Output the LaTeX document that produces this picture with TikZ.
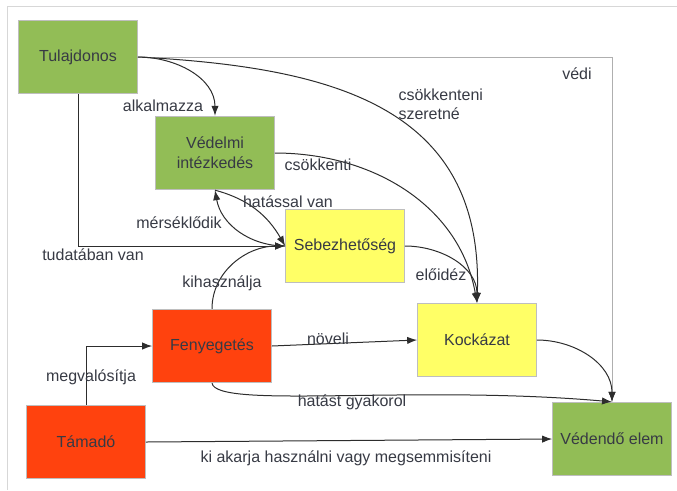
\documentclass[tikz,border=0pt]{standalone}
\usepackage{fontspec}
\setmainfont{Liberation Sans}
\usetikzlibrary{arrows.meta}

\definecolor{zold}{RGB}{146,189,86}
\definecolor{sarga}{RGB}{255,255,102}
\definecolor{piros}{RGB}{255,66,14}
\definecolor{szoveg}{RGB}{55,58,68}
\definecolor{vonal}{RGB}{45,45,45}
\definecolor{halvany}{RGB}{175,175,175}
\definecolor{keret}{RGB}{190,190,190}

\tikzset{every picture/.style={line width=0.75pt}}

\begin{document}
\begin{tikzpicture}[x=0.75pt,y=0.75pt,yscale=-1,xscale=1,
  doboz/.style={draw=keret, minimum width=89pt, minimum height=55pt, inner sep=0pt, align=center, text=szoveg, font=\fontsize{12}{15}\selectfont},
  felirat/.style={inner sep=0.75pt, text=szoveg, align=left, font=\fontsize{12}{14.25}\selectfont},
  nyil/.style={draw=vonal, -{Latex[length=7.5pt,width=5.5pt]}}]
\useasboundingbox (0,0) rectangle (677,490);
%page frame
\draw [color={rgb, 255:red, 215; green, 215; blue, 215 }] (677,6) -- (7,6) -- (7,490);

%Shape: Rectangle
\node [doboz, fill=zold] (tul) at (78,57) {Tulajdonos};
\node [doboz, fill=zold] (ved) at (215,153) {Védelmi\\intézkedés};
\node [doboz, fill=sarga] (seb) at (345,246) {Sebezhetőség};
\node [doboz, fill=piros] (fen) at (212,346) {Fenyegetés};
\node [doboz, fill=sarga] (koc) at (477,340) {Kockázat};
\node [doboz, fill=piros] (tam) at (86,442) {Támadó};
\node [doboz, fill=zold] (vel) at (612,439) {Védendő elem};

%Curve Lines
\draw [nyil] (tul.east) to[out=0,in=-90] (ved.north);
\draw [nyil, draw=halvany, -{Latex[length=7.5pt,width=5.5pt,color=vonal]}] (tul.east) -| (vel.north);
\draw [nyil] (tul.east) to[out=3,in=-88,looseness=1.2] (koc.north);
\draw [nyil] (tul.south) |- (seb.west);
\draw [nyil] (ved.east) to[out=0,in=-100] (koc.north);
\draw [nyil] (ved.south) to[out=15,in=-120] (seb.west);
\draw [nyil] (seb.west) to[out=180,in=80] (ved.south);
\draw [nyil] (fen.north) to[out=-90,in=180] (seb.west);
\draw [nyil] (seb.east) to[out=0,in=-90] (koc.north);
\draw [nyil] (fen.east) -- (koc.west);
\draw [nyil] (fen.south) to[out=80,in=-175,out distance=20pt,in distance=150pt] (vel.north);
\draw [nyil] (koc.east) to[out=0,in=-90] (vel.north);
\draw [nyil] (tam.north) |- (fen.west);
\draw [nyil] (tam.east) -- (vel.west);

% Text Node
\node [felirat] (l-alk) at (163,106) {alkalmazza};
% Text Node
\node [felirat] (l-vedi) at (577,74) {védi};
% Text Node
\node [felirat, anchor=west] (l-csksz) at (397,104) {csökkenteni\\szeretné};
% Text Node
\node [felirat] (l-csk) at (318,165) {csökkenti};
% Text Node
\node [felirat] (l-hat) at (288,202) {hatással van};
% Text Node
\node [felirat] (l-mer) at (179,223) {mérséklődik};
% Text Node
\node [felirat] (l-tud) at (93,255) {tudatában van};
% Text Node
\node [felirat] (l-kih) at (222,283) {kihasználja};
% Text Node
\node [felirat] (l-elo) at (441,275) {előidéz};
% Text Node
\node [felirat] (l-nov) at (328,339) {növeli};
% Text Node
\node [felirat] (l-gyak) at (352,402) {hatást gyakorol};
% Text Node
\node [felirat] (l-meg) at (91,377) {megvalósítja};
% Text Node
\node [felirat] (l-ki) at (346,458) {ki akarja használni vagy megsemmisíteni};

\end{tikzpicture}
\end{document}
